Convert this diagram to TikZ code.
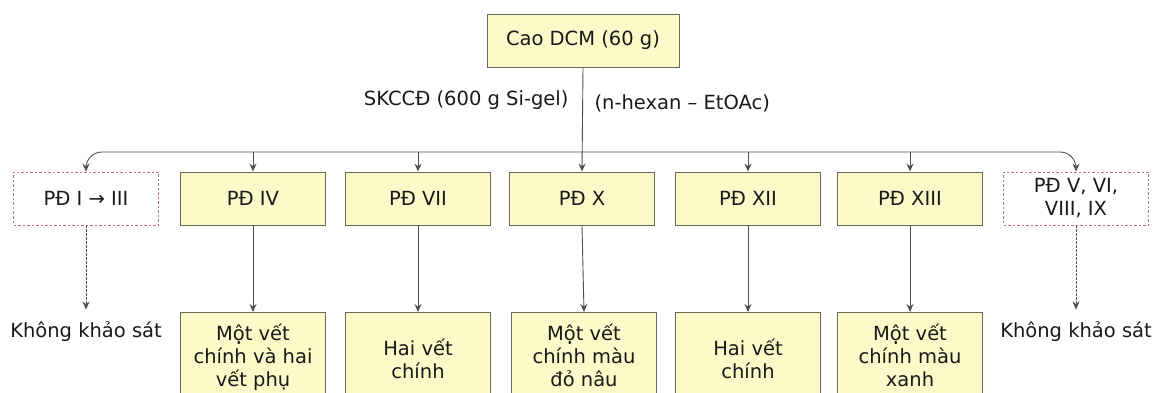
\documentclass[tikz,border=0pt]{standalone}
\usepackage{fontspec}
\setmainfont{DejaVu Sans}
\usetikzlibrary{arrows.meta}
\definecolor{boxfill}{RGB}{252,250,200}
\definecolor{boxline}{RGB}{105,105,90}
\definecolor{dashline}{RGB}{205,110,115}
\definecolor{wire}{RGB}{80,80,80}
\tikzset{
  every node/.style={font=\fontsize{19.5}{23}\selectfont, text=black!90},
  yellowbox/.style={draw=boxline, line width=0.9pt, fill=boxfill, minimum width=145pt,
    minimum height=53pt, align=center, inner sep=0pt},
  lowbox/.style={yellowbox, minimum height=86pt, anchor=north, text depth=0pt},
  skipbox/.style={draw=dashline, line width=0.9pt, dash pattern=on 2.5pt off 2pt,
    minimum width=145pt, minimum height=53pt, align=center, inner sep=0pt},
  arr/.style={draw=wire, line width=0.9pt, -{Stealth[length=8pt,width=7pt]}},
  dasharr/.style={arr, dash pattern=on 2.5pt off 1.5pt},
}
\begin{document}
\begin{tikzpicture}[x=1pt,y=-1pt]
\useasboundingbox (0,0) rectangle (1154,393);
\begin{scope}
\clip (0,0) rectangle (1154,393);

% root
\node[yellowbox, minimum width=192pt] (root) at (583,40.5) {Cao DCM (60 g)};
\node[anchor=east] (lab1) at (572,100) {SKCCĐ (600 g Si-gel)};
\node[anchor=west] (lab2) at (591,103) {(n-hexan – EtOAc)};

% fractions
\node[skipbox]   (f1) at (86,198.5)   {PĐ I → III};
\node[yellowbox] (f2) at (253,198.5)  {PĐ IV};
\node[yellowbox] (f3) at (418,198.5)  {PĐ VII};
\node[yellowbox] (f4) at (582,198.5)  {PĐ X};
\node[yellowbox] (f5) at (748,198.5)  {PĐ XII};
\node[yellowbox] (f6) at (910,198.5)  {PĐ XIII};
\node[skipbox]   (f7) at (1076,198.5) {PĐ V, VI,\\VIII, IX};

% results
\node (r1) at (86,332) {Không khảo sát};
\node[lowbox] (r2) at (253,312) {\rule{0pt}{12pt}Một vết\\chính và hai\\vết phụ};
\node[lowbox] (r3) at (418,312) {\rule{0pt}{23pt}Hai vết\\chính};
\node[lowbox] (r4) at (584,312) {\rule{0pt}{12pt}Một vết\\chính màu\\đỏ nâu};
\node[lowbox] (r5) at (748,312) {\rule{0pt}{23pt}Hai vết\\chính};
\node[lowbox] (r6) at (910,312) {\rule{0pt}{12pt}Một vết\\chính màu\\xanh};
\node (r7) at (1076,332) {Không khảo sát};

% splitting bus
\coordinate (bus) at (583,152);
\draw[arr] (root.south) -- (f4.north);
\draw[arr, rounded corners=16pt] (bus) -| (f1.north);
\draw[arr, rounded corners=16pt] (bus) -| (f7.north);
\foreach \f in {f2,f3,f5,f6}
  \draw[arr] (bus -| \f.north) -- (\f.north);

% fraction to result
\draw[dasharr] (f1.south) -- ([yshift=9pt]r1.north);
\draw[dasharr] (f7.south) -- ([yshift=9pt]r7.north);
\foreach \a/\b in {f2/r2,f3/r3,f4/r4,f5/r5,f6/r6}
  \draw[arr] (\a.south) -- (\b.north);
\end{scope}
\end{tikzpicture}
\end{document}
